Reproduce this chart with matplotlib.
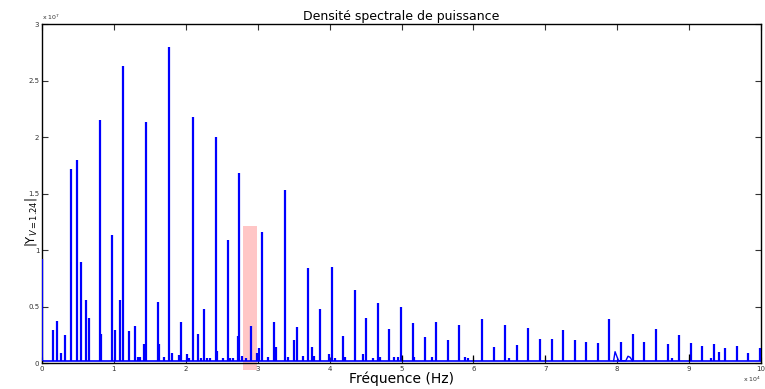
import numpy as np
import matplotlib.pyplot as plt
from matplotlib.patches import Rectangle

# frequencies in units of 1e4 Hz, amplitudes in units of 1e7
freqs = [0.00, 0.157, 0.204, 0.27, 0.325, 0.403, 0.482, 0.542, 0.607, 0.649,
         0.807, 0.825, 0.969, 1.01, 1.09, 1.127, 1.21, 1.29, 1.33, 1.36,
         1.414, 1.451, 1.609, 1.63, 1.70, 1.77, 1.81, 1.90, 1.933, 2.01,
         2.05, 2.096, 2.175, 2.21, 2.258, 2.30, 2.34, 2.415, 2.44, 2.52,
         2.58, 2.62, 2.66, 2.72, 2.74, 2.78, 2.84, 2.90, 2.99, 3.02,
         3.06, 3.14, 3.22, 3.26, 3.384, 3.42, 3.50, 3.54, 3.63, 3.70,
         3.75, 3.78, 3.87, 3.99, 4.03, 4.07, 4.19, 4.22, 4.35, 4.47,
         4.51, 4.60, 4.67, 4.70, 4.83, 4.89, 4.95, 4.99, 5.155, 5.18,
         5.32, 5.43, 5.475, 5.64, 5.80, 5.88, 5.92, 6.115, 6.28, 6.44,
         6.49, 6.60, 6.76, 6.93, 7.09, 7.25, 7.41, 7.57, 7.73, 7.89,
         8.05, 8.215, 8.37, 8.535, 8.70, 8.76, 8.86, 9.02, 9.18, 9.31,
         9.34, 9.42, 9.50, 9.66, 9.82, 9.99]
amps = [0.92, 0.29, 0.37, 0.09, 0.25, 1.72, 1.80, 0.89, 0.56, 0.40,
        2.15, 0.26, 1.13, 0.29, 0.56, 2.63, 0.28, 0.33, 0.05, 0.05,
        0.17, 2.13, 0.54, 0.17, 0.05, 2.80, 0.09, 0.07, 0.36, 0.08,
        0.04, 2.18, 0.26, 0.04, 0.48, 0.04, 0.04, 2.00, 0.11, 0.04,
        1.09, 0.04, 0.04, 0.24, 1.68, 0.06, 0.04, 0.33, 0.09, 0.13,
        1.16, 0.05, 0.36, 0.14, 1.53, 0.05, 0.20, 0.32, 0.06, 0.84,
        0.14, 0.06, 0.48, 0.08, 0.85, 0.04, 0.24, 0.05, 0.65, 0.08,
        0.40, 0.04, 0.53, 0.05, 0.30, 0.05, 0.05, 0.50, 0.35, 0.05,
        0.23, 0.05, 0.36, 0.20, 0.34, 0.05, 0.04, 0.39, 0.14, 0.34,
        0.04, 0.16, 0.31, 0.21, 0.21, 0.29, 0.20, 0.19, 0.18, 0.39,
        0.19, 0.26, 0.19, 0.30, 0.17, 0.04, 0.25, 0.18, 0.15, 0.04,
        0.17, 0.10, 0.13, 0.15, 0.09, 0.135]

# broad bumps near 8e4 Hz
bump_f = [7.95, 7.97, 8.00, 8.02, 8.12, 8.15, 8.18, 8.21]
bump_a = [0.02, 0.10, 0.05, 0.02, 0.02, 0.06, 0.05, 0.02]

# second (black) series, small spikes
black_f = [5.00, 6.00, 7.00, 9.00]
black_a = [0.07, 0.07, 0.07, 0.08]

baseline = 0.015
band = (2.80, 2.99, 1.21)  # highlighted zone: start, end, height

xticks = np.arange(0, 11)
xlabels = [str(t) for t in xticks]
yticks = [0, 0.5, 1, 1.5, 2, 2.5, 3]
ylabels = ["0", "0.5", "1", "1.5", "2", "2.5", "3"]

plt.rcParams['mathtext.fontset'] = 'dejavusans'
fig = plt.figure(figsize=(7.65, 3.89), dpi=100)
ax = fig.add_axes([0.0549, 0.0668, 0.9399, 0.8715])

ax.add_patch(Rectangle((band[0], -0.06), band[1] - band[0], band[2] + 0.06,
                       facecolor="#ffc6c6", edgecolor="none", zorder=0.5,
                       clip_on=False))

ax.plot([0, 10], [baseline, baseline], color="blue", lw=1.2, zorder=2)
ax.vlines(freqs, baseline, amps, color="blue", lw=1.6, zorder=3)
ax.plot(bump_f, bump_a, color="blue", lw=1.0, zorder=3)
ax.vlines(black_f, baseline, black_a, color="black", lw=0.9, zorder=3)

ax.set_xlim(0, 10)
ax.set_ylim(0, 3)
ax.set_xticks(xticks)
ax.set_xticklabels(xlabels)
ax.set_yticks(yticks)
ax.set_yticklabels(ylabels)
ax.tick_params(direction="in", length=4, width=0.8, labelsize=5,
               top=True, right=True, pad=2, colors="#333333")
for s in ax.spines.values():
    s.set_linewidth(1.0)

ax.set_title("Densité spectrale de puissance", fontsize=9, pad=3)
ax.set_xlabel("Fréquence (Hz)", fontsize=10, labelpad=0)
ax.set_ylabel(r"|Y$_{V=1.24}$|", fontsize=8.5)
ax.yaxis.set_label_coords(-0.004, 0.415)

ax.text(0.0, 1.005, r"x 10$^7$", transform=ax.transAxes, fontsize=4.5,
        ha="left", va="bottom", color="#333333")
ax.text(1.0, -0.035, r"x 10$^4$", transform=ax.transAxes, fontsize=4.5,
        ha="right", va="top", color="#333333")

plt.savefig("out.png", dpi=100)
plt.close(fig)
